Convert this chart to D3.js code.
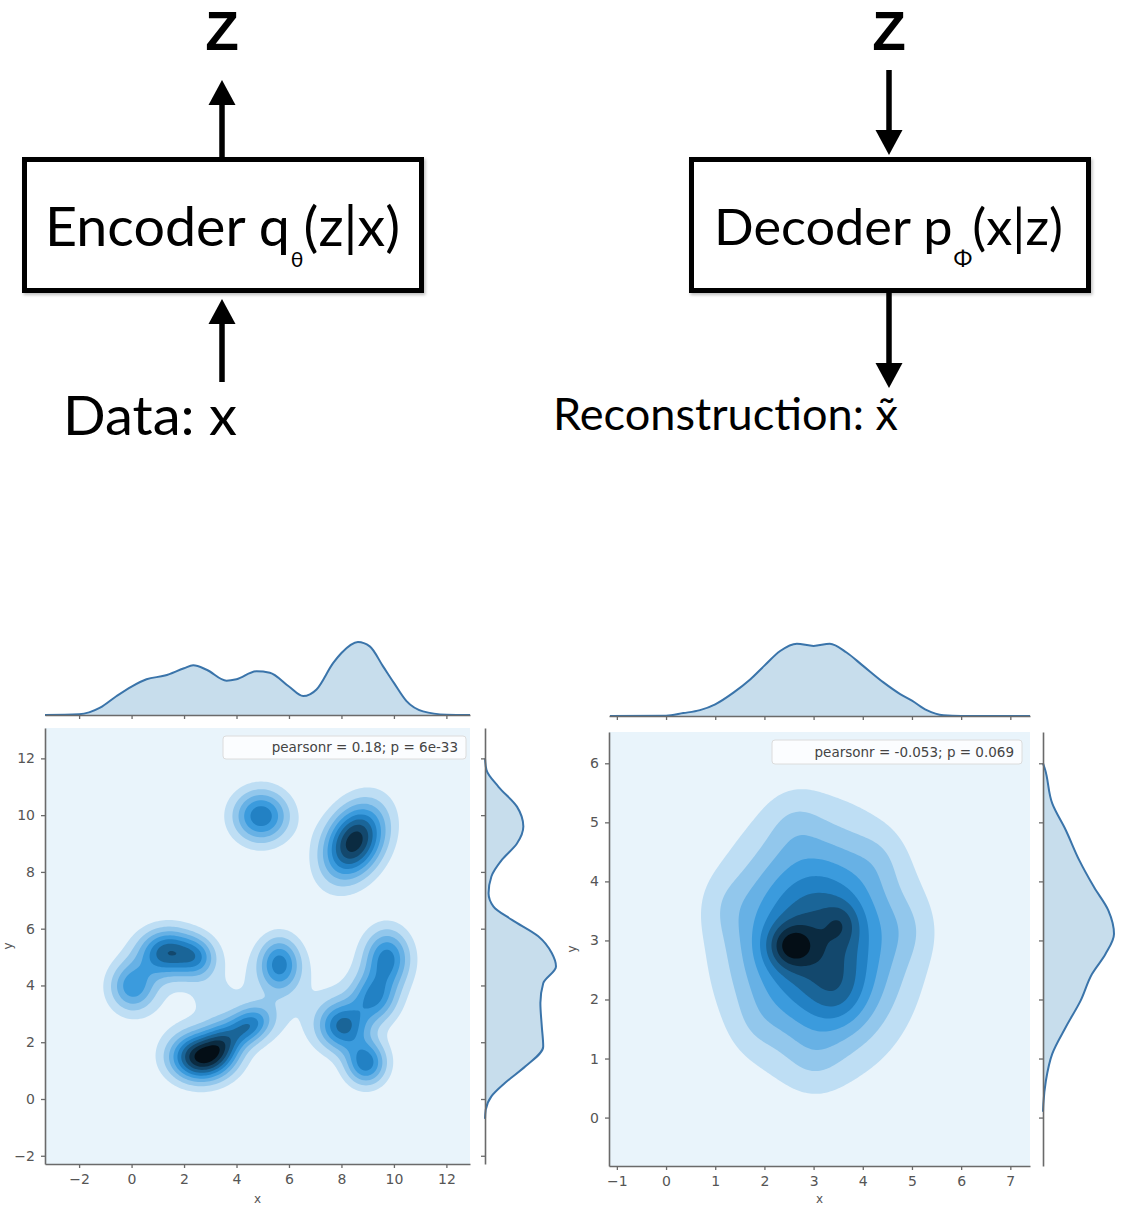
<!DOCTYPE html>
<html>
<head>
<meta charset="utf-8">
<script src="https://cdn.jsdelivr.net/npm/d3@7"></script>
<style>
body { margin: 0; background: #fff; }
svg { display: block; }
</style>
</head>
<body>
<svg id="fig" width="1128" height="1206"></svg>
<script>
// ---- left joint plot: density blobs ----
// last two entries: broad low ridge joining the lower clusters, small bridge C-E
var leftBlobX    = [4.9, 8.45, 1.35, 0.0, 2.5, 5.6, 2.6, 4.4, 3.4, 9.7, 9.2, 8.0, 8.9, 4.9, 3.0]
var leftBlobY    = [10.0, 9.1, 5.2, 4.0, 5.0, 4.8, 1.5, 2.6, 2.0, 5.0, 3.6, 2.6, 1.3, 3.5, 3.6]
var leftBlobSX   = [0.75, 0.82, 0.78, 0.62, 0.5, 0.55, 0.8, 0.62, 0.5, 0.62, 0.6, 0.65, 0.55, 3.0, 0.5]
var leftBlobSY   = [0.65, 0.92, 0.58, 0.62, 0.5, 0.65, 0.58, 0.48, 0.5, 0.72, 0.6, 0.6, 0.55, 1.3, 0.5]
var leftBlobRho  = [0, 0.3, 0, 0, 0, 0, 0, 0.3, 0, 0, 0, 0, 0, 0, 0]
var leftBlobPeak = [0.55, 0.82, 0.62, 0.42, 0.3, 0.48, 0.85, 0.48, 0.3, 0.5, 0.42, 0.55, 0.52, 0.09, 0.05]

// marginal curves of the left plot (relative height)
var leftTopX = [-3.3, -2, -1.2, -0.57, 0, 0.57, 1.27, 2, 2.35, 2.86, 3.62, 4, 4.76, 5.27, 6, 6.54, 7.05, 7.68, 8, 8.63, 9.08, 9.58, 10, 10.48, 11.11, 12, 12.9]
var leftTopD = [0, 0.01, 0.1, 0.26, 0.39, 0.49, 0.54, 0.64, 0.68, 0.62, 0.47, 0.49, 0.6, 0.58, 0.39, 0.26, 0.35, 0.71, 0.85, 1.0, 0.94, 0.67, 0.44, 0.19, 0.05, 0.005, 0]
var leftSideY = [12.0, 11.6, 11.0, 10.3, 9.6, 9.0, 8.43, 7.84, 7.25, 6.78, 6.31, 5.73, 5.14, 4.67, 4.08, 3.38, 2.56, 1.85, 1.15, 0.56, 0.09, -0.38, -0.7]
var leftSideD = [0, 0.02, 0.19, 0.45, 0.54, 0.45, 0.24, 0.09, 0.05, 0.12, 0.38, 0.75, 0.94, 1.0, 0.82, 0.78, 0.8, 0.82, 0.57, 0.28, 0.09, 0.01, 0]

// ---- right joint plot ----
var rightBlobX    = [3.05, 2.5, 3.55, 3.5, 2.6, 1.2, 4.9, 3.0, 4.3, 1.8]
var rightBlobY    = [3.0, 2.92, 3.3, 2.1, 5.0, 3.6, 3.2, 1.0, 4.4, 1.6]
var rightBlobSX   = [1.12, 0.33, 0.25, 0.42, 0.4, 0.4, 0.4, 0.4, 0.35, 0.35]
var rightBlobSY   = [1.22, 0.26, 0.25, 0.42, 0.4, 0.4, 0.4, 0.4, 0.35, 0.35]
var rightBlobRho  = [0, 0, 0, 0, 0, 0, 0, 0, 0, 0]
var rightBlobPeak = [0.65, 0.28, 0.12, 0.12, 0.06, 0.05, 0.05, 0.05, 0.04, 0.03]

var rightTopX = [-1.14, 0, 0.35, 0.69, 1, 1.37, 1.71, 2, 2.32, 2.66, 3, 3.33, 3.67, 4, 4.42, 4.76, 5, 5.3, 5.64, 6, 7.4]
var rightTopD = [0, 0.005, 0.04, 0.08, 0.16, 0.32, 0.5, 0.69, 0.89, 0.99, 0.96, 0.99, 0.87, 0.69, 0.46, 0.3, 0.21, 0.08, 0.01, 0, 0]
var rightSideY = [6.0, 5.89, 5.32, 4.87, 4.36, 3.9, 3.51, 3.11, 2.77, 2.43, 1.98, 1.53, 1.08, 0.62, 0.23, 0.1]
var rightSideD = [0, 0.03, 0.13, 0.32, 0.51, 0.72, 0.92, 1.0, 0.88, 0.69, 0.53, 0.32, 0.13, 0.04, 0.005, 0]

var leftTicksX = [-2, 0, 2, 4, 6, 8, 10, 12]
var leftTicksY = [-2, 0, 2, 4, 6, 8, 10, 12]
var rightTicksX = [-1, 0, 1, 2, 3, 4, 5, 6, 7]
var rightTicksY = [0, 1, 2, 3, 4, 5, 6]

var leftLegend = "pearsonr = 0.18; p = 6e-33"
var rightLegend = "pearsonr = -0.053; p = 0.069"

var nBands = 10
var baseColor = "#1f77b4"
var spineColor = "#6a6a6a"

var svg = d3.select("#fig")

// ---------------- diagram ----------------
var ink = "#000"
var diaFont = "Lato, 'Open Sans', sans-serif"

var defs = svg.append("defs")
defs.append("filter").attr("id", "shadow")
	.attr("x", "-5%").attr("y", "-5%").attr("width", "115%").attr("height", "120%")
	.append("feDropShadow")
	.attr("dx", 1.5).attr("dy", 2).attr("stdDeviation", 1.5)
	.attr("flood-color", "#000").attr("flood-opacity", 0.25)

function arrow(x, yFrom, yTip) {
	var dir = yTip < yFrom ? -1 : 1
	var base = yTip - dir * 25
	svg.append("line")
		.attr("x1", x).attr("x2", x)
		.attr("y1", yFrom).attr("y2", base)
		.attr("stroke", ink)
		.attr("stroke-width", 5.5)
	svg.append("path")
		.attr("d", "M" + (x - 13.5) + "," + base + "L" + (x + 13.5) + "," + base + "L" + x + "," + yTip + "Z")
		.attr("fill", ink)
}

function label(x, y, txt, size, width) {
	var t = svg.append("text")
		.attr("x", x)
		.attr("y", y)
		.attr("font-family", diaFont)
		.attr("font-size", size)
		.attr("fill", ink)
		.text(txt)
	if (width) t.attr("textLength", width).attr("lengthAdjust", "spacingAndGlyphs")
	return t
}

// "name p" + lowered subscript + "(a|b)" as one text
function boxLabel(x, y, head, sub, tail, size, subSize, width) {
	var t = svg.append("text")
		.attr("x", x)
		.attr("y", y)
		.attr("font-family", diaFont)
		.attr("font-size", size)
		.attr("fill", ink)
		.attr("textLength", width)
		.attr("lengthAdjust", "spacingAndGlyphs")
	t.append("tspan").text(head)
	t.append("tspan").attr("font-size", subSize).attr("dy", 21).attr("dx", 1).text(sub)
	t.append("tspan").attr("dy", -21).text(tail)
}

function zLabel(x) {
	svg.append("text")
		.attr("x", x)
		.attr("y", 50)
		.attr("text-anchor", "middle")
		.attr("font-family", "'Liberation Sans', Arial, sans-serif")
		.attr("font-weight", 700)
		.attr("font-size", 55)
		.attr("fill", ink)
		.text("Z")
}

function box(x0, x1) {
	svg.append("rect")
		.attr("x", x0 + 2.5).attr("y", 159.5)
		.attr("width", x1 - x0 - 5).attr("height", 131)
		.attr("fill", "#fff")
		.attr("stroke", ink)
		.attr("stroke-width", 5)
		.attr("filter", "url(#shadow)")
}

// encoder
zLabel(222)
arrow(222, 157, 80)
box(22, 424)
boxLabel(45, 246, "Encoder q", "\u03b8", "(z|x)", 55, 21, 355)
arrow(222, 382, 299)
label(63, 435, "Data: x", 54, 174)

// decoder
zLabel(889)
arrow(889, 70, 155)
box(689, 1091)
boxLabel(714, 245, "Decoder p", "\u03a6", "(x|z)", 51, 22, 349)
arrow(889, 292, 388)
label(553, 430, "Reconstruction: x\u0303", 45, 345)

// ---------------- joint plots ----------------
var hsl0 = d3.hsl(baseColor)
function bandColor(k) {
	return d3.hsl(hsl0.h, hsl0.s, 1 - (k + 0.5) / nBands).formatHex()
}

function minus(d) {
	return d < 0 ? "\u2212" + (-d) : "" + d
}

function styleAxis(g, withText) {
	g.attr("font-family", "'DejaVu Sans', sans-serif").attr("font-size", 14)
	g.select(".domain").attr("stroke", spineColor).attr("stroke-width", 1.6)
	g.selectAll(".tick line").attr("stroke", spineColor).attr("stroke-width", 1.3)
	g.selectAll(".tick text").attr("fill", "#555")
	if (!withText) g.selectAll(".tick text").remove()
}

var plots = [
	{
		id: "L", left: 45, right: 470, top: 728, bottom: 1164,
		xDom: [-3.3, 12.9], yDom: [-2.29, 13.07],
		xTicks: leftTicksX, yTicks: leftTicksY,
		bx: leftBlobX, by: leftBlobY, sx: leftBlobSX, sy: leftBlobSY, rho: leftBlobRho, peak: leftBlobPeak,
		topX: leftTopX, topD: leftTopD, sideY: leftSideY, sideD: leftSideD,
		topBase: 715, topH: 73, sideBase: 485, sideW: 71,
		legend: leftLegend, legX0: 223, legX1: 466, legY0: 736, legY1: 759,
		yLabelX: 12
	},
	{
		id: "R", left: 609, right: 1030, top: 732, bottom: 1166,
		xDom: [-1.16, 7.4], yDom: [-0.82, 6.53],
		xTicks: rightTicksX, yTicks: rightTicksY,
		bx: rightBlobX, by: rightBlobY, sx: rightBlobSX, sy: rightBlobSY, rho: rightBlobRho, peak: rightBlobPeak,
		topX: rightTopX, topD: rightTopD, sideY: rightSideY, sideD: rightSideD,
		topBase: 716, topH: 73, sideBase: 1043, sideW: 71,
		legend: rightLegend, legX0: 772, legX1: 1022, legY0: 740, legY1: 764,
		yLabelX: 576
	}
]

plots.forEach(function(p) {
	var xScale = d3.scaleLinear().domain(p.xDom).range([p.left, p.right])
	var yScale = d3.scaleLinear().domain(p.yDom).range([p.bottom, p.top])

	// density grid over the axes, in pixel steps
	var step = 2
	var nx = Math.ceil((p.right - p.left) / step) + 1
	var ny = Math.ceil((p.bottom - p.top) / step) + 1
	var values = new Array(nx * ny)
	for (var j = 0; j < ny; j++) {
		for (var i = 0; i < nx; i++) {
			var x = xScale.invert(p.left + i * step)
			var y = yScale.invert(p.top + j * step)
			var s = 0
			for (var k = 0; k < p.bx.length; k++) {
				var dx = (x - p.bx[k]) / p.sx[k]
				var dy = (y - p.by[k]) / p.sy[k]
				var r = p.rho[k]
				var q = (dx * dx - 2 * r * dx * dy + dy * dy) / (1 - r * r)
				s += p.peak[k] * Math.exp(-0.5 * q)
			}
			values[i + j * nx] = s
		}
	}
	var maxD = d3.max(values)
	var levels = d3.range(1, nBands).map(function(k) { return maxD * k / nBands })

	var contours = d3.contours()
		.size([nx, ny])
		.thresholds(levels)(values)

	var proj = d3.geoTransform({
		point: function(x, y) {
			this.stream.point(p.left + x * step, p.top + y * step)
		}
	})
	var path = d3.geoPath(proj)

	defs.append("clipPath").attr("id", "clip" + p.id)
		.append("rect")
		.attr("x", p.left).attr("y", p.top)
		.attr("width", p.right - p.left).attr("height", p.bottom - p.top)

	var g = svg.append("g").attr("clip-path", "url(#clip" + p.id + ")")
	g.append("rect")
		.attr("x", p.left).attr("y", p.top)
		.attr("width", p.right - p.left).attr("height", p.bottom - p.top)
		.attr("fill", bandColor(0))
	g.selectAll("path.band")
		.data(contours)
		.join("path")
		.attr("class", "band")
		.attr("d", path)
		.attr("fill", function(d, i) { return bandColor(i + 1) })

	// legend
	svg.append("rect")
		.attr("x", p.legX0).attr("y", p.legY0)
		.attr("width", p.legX1 - p.legX0).attr("height", p.legY1 - p.legY0)
		.attr("rx", 3)
		.attr("fill", "#fbfdff")
		.attr("stroke", "#dcdcdc")
		.attr("stroke-width", 1)
	svg.append("text")
		.attr("x", p.legX1 - 8)
		.attr("y", p.legY1 - 7)
		.attr("text-anchor", "end")
		.attr("font-family", "'DejaVu Sans', sans-serif")
		.attr("font-size", 13.5)
		.attr("fill", "#444")
		.text(p.legend)

	// main axes
	svg.append("g")
		.attr("transform", "translate(0," + p.bottom + ")")
		.call(d3.axisBottom(xScale).tickValues(p.xTicks).tickFormat(minus).tickSize(4).tickSizeOuter(0).tickPadding(6))
		.call(styleAxis, true)
	svg.append("g")
		.attr("transform", "translate(" + p.left + ",0)")
		.call(d3.axisLeft(yScale).tickValues(p.yTicks).tickFormat(minus).tickSize(4).tickSizeOuter(0).tickPadding(6))
		.call(styleAxis, true)

	svg.append("text")
		.attr("x", (p.left + p.right) / 2)
		.attr("y", 1203)
		.attr("text-anchor", "middle")
		.attr("font-family", "'DejaVu Sans', sans-serif")
		.attr("font-size", 12)
		.attr("fill", "#555")
		.text("x")
	svg.append("text")
		.attr("transform", "translate(" + p.yLabelX + "," + yScale((p.yDom[0] + p.yDom[1]) / 2) + ") rotate(-90)")
		.attr("text-anchor", "middle")
		.attr("font-family", "'DejaVu Sans', sans-serif")
		.attr("font-size", 12)
		.attr("fill", "#555")
		.text("y")

	// top marginal
	var topScale = d3.scaleLinear().domain([0, 1]).range([p.topBase, p.topBase - p.topH])
	var topData = p.topX.map(function(v, i) { return {v: v, d: p.topD[i]} })
	var topArea = d3.area()
		.x(function(d) { return xScale(d.v) })
		.y0(p.topBase)
		.y1(function(d) { return topScale(d.d) })
		.curve(d3.curveMonotoneX)
	svg.append("path").datum(topData)
		.attr("d", topArea)
		.attr("fill", baseColor)
		.attr("fill-opacity", 0.25)
	svg.append("path").datum(topData)
		.attr("d", topArea.lineY1())
		.attr("fill", "none")
		.attr("stroke", "#3a74aa")
		.attr("stroke-width", 2)
	svg.append("g")
		.attr("transform", "translate(0," + p.topBase + ")")
		.call(d3.axisBottom(xScale).tickValues(p.xTicks).tickSize(4).tickSizeOuter(0))
		.call(styleAxis, false)

	// right marginal
	var sideScale = d3.scaleLinear().domain([0, 1]).range([p.sideBase, p.sideBase + p.sideW])
	var sideData = p.sideY.map(function(v, i) { return {v: v, d: p.sideD[i]} })
	var sideArea = d3.area()
		.y(function(d) { return yScale(d.v) })
		.x0(p.sideBase)
		.x1(function(d) { return sideScale(d.d) })
		.curve(d3.curveMonotoneY)
	svg.append("path").datum(sideData)
		.attr("d", sideArea)
		.attr("fill", baseColor)
		.attr("fill-opacity", 0.25)
	svg.append("path").datum(sideData)
		.attr("d", sideArea.lineX1())
		.attr("fill", "none")
		.attr("stroke", "#3a74aa")
		.attr("stroke-width", 2)
	svg.append("g")
		.attr("transform", "translate(" + p.sideBase + ",0)")
		.call(d3.axisLeft(yScale).tickValues(p.yTicks).tickSize(4).tickSizeOuter(0))
		.call(styleAxis, false)
})
</script>
</body>
</html>
